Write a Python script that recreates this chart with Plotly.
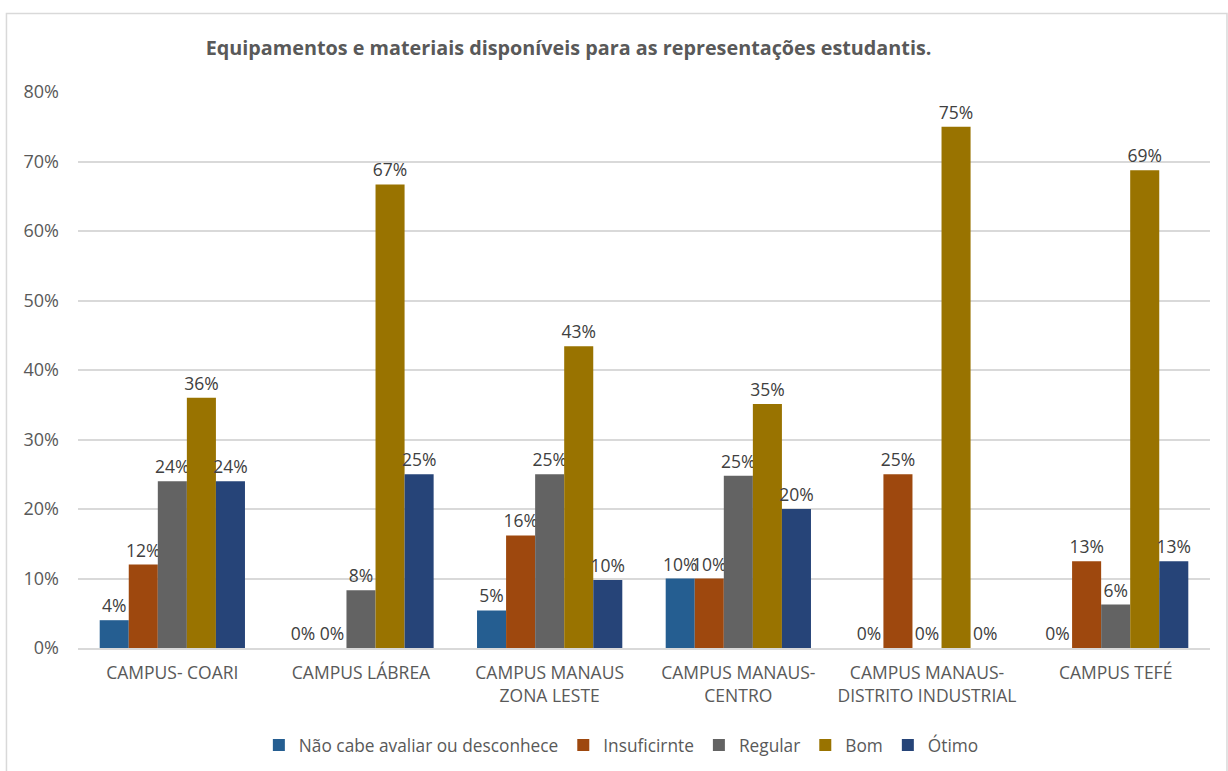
import plotly.graph_objects as go

categories = ["CAMPUS- COARI", "CAMPUS LÁBREA", "CAMPUS MANAUS<br>ZONA LESTE",
              "CAMPUS MANAUS-<br>CENTRO", "CAMPUS MANAUS-<br>DISTRITO INDUSTRIAL", "CAMPUS TEFÉ"]
series_names = ["Não cabe avaliar ou desconhece", "Insuficirnte", "Regular", "Bom", "Ótimo"]
nao_cabe = [0.04, 0.0, 0.054, 0.10, 0.0, 0.0]
insuficiente = [0.12, 0.0, 0.162, 0.10, 0.25, 0.125]
regular = [0.24, 0.083, 0.25, 0.248, 0.0, 0.0625]
bom = [0.36, 0.667, 0.434, 0.351, 0.75, 0.6875]
otimo = [0.24, 0.25, 0.098, 0.20, 0.0, 0.125]
colors = ["#255E91", "#9E480E", "#636363", "#997300", "#264478"]

fig = go.Figure()
for name, vals, col in zip(series_names, [nao_cabe, insuficiente, regular, bom, otimo], colors):
    fig.add_trace(go.Bar(
        x=categories, y=vals, name=name, marker_color=col,
        marker_line_width=0,
        text=[f"{int(v * 100 + 0.5)}%" for v in vals], textposition="outside",
        textfont=dict(size=17.5, color="#404040", family="Open Sans"),
        constraintext="none", cliponaxis=False,
    ))

fig.update_layout(
    width=1228, height=771,
    paper_bgcolor="white", plot_bgcolor="white",
    barmode="group", bargap=0.23, bargroupgap=0,
    margin=dict(l=78, r=18, t=92, b=123, autoexpand=False),
    font=dict(family="Open Sans", size=17, color="#595959"),
    title=dict(text="<b>Equipamentos e materiais disponíveis para as representações estudantis.</b>",
               x=0.463, xanchor="center", y=0.938, yanchor="middle",
               font=dict(size=19.8, color="#595959", family="Open Sans")),
    yaxis=dict(range=[0, 0.8], dtick=0.1, tickformat=".0%", showgrid=True, automargin=False,
               gridcolor="#D9D9D9", gridwidth=1.5, zeroline=False, showline=False,
               ticks="", ticklabelstandoff=18, tickfont=dict(size=18, color="#595959")),
    xaxis=dict(showline=True, linecolor="#D9D9D9", linewidth=1.5, ticks="", automargin=False,
               ticklabelstandoff=8, tickfont=dict(size=17.5, color="#595959")),
    legend=dict(orientation="h", x=0.48, xanchor="center", y=-0.175, yanchor="middle",
                font=dict(size=17.3, color="#595959"), itemwidth=30, traceorder="normal"),
    shapes=[dict(type="rect", xref="paper", yref="paper", x0=-0.0632, x1=1.015, y0=-0.3, y1=1.141,
                 line=dict(color="#D9D9D9", width=1.5), fillcolor="rgba(0,0,0,0)", layer="below")],
)

fig.write_html("out.html", config={"displayModeBar": False},
               post_script="document.body.style.margin='0';")
